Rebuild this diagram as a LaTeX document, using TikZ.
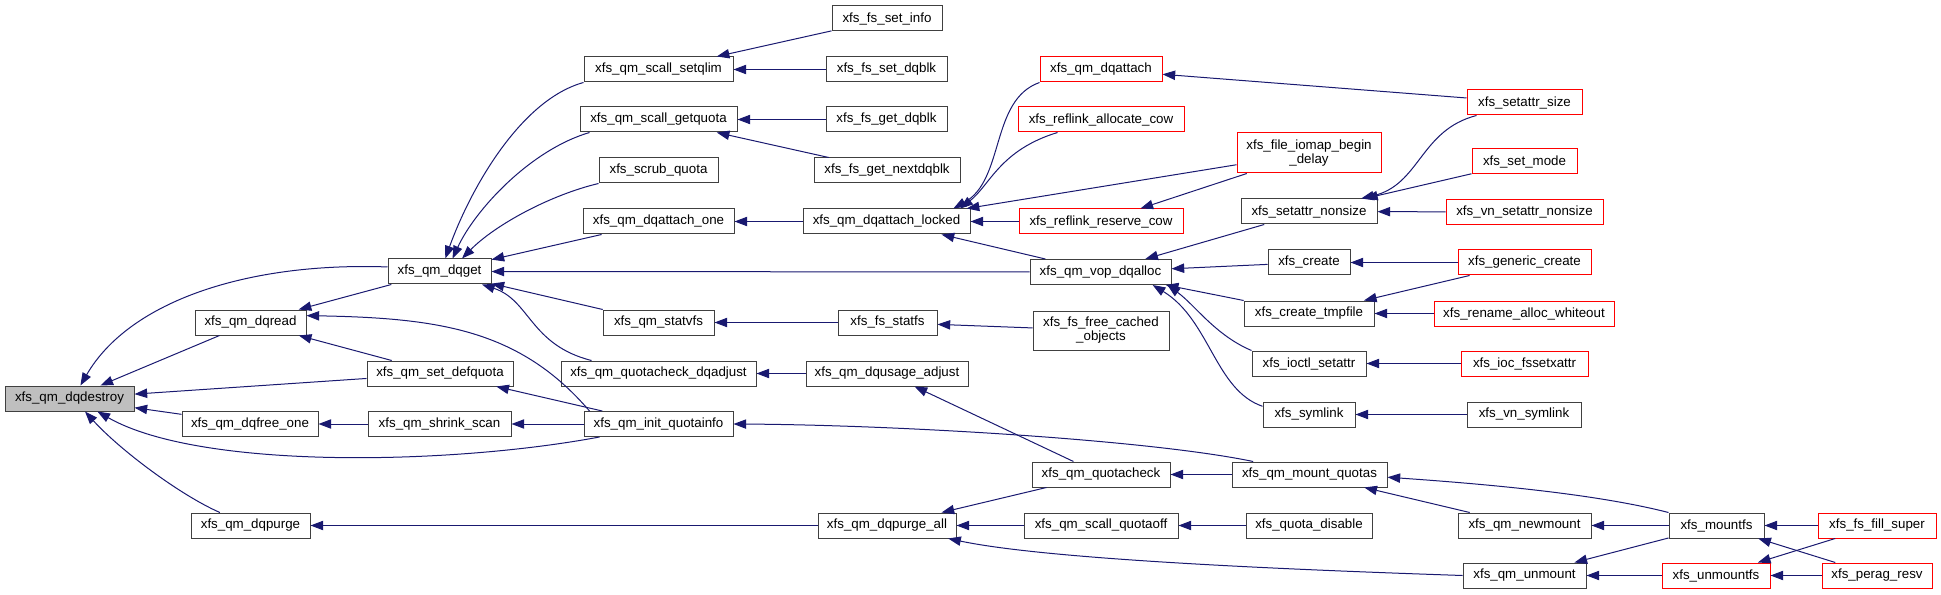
\documentclass[tikz,border=0pt]{standalone}
\usepackage{fontspec}
\setmainfont{Liberation Sans}
\usetikzlibrary{arrows.meta}
\definecolor{edgec}{HTML}{191970}
\definecolor{boxc}{HTML}{404040}
\definecolor{redc}{HTML}{FF0000}
\definecolor{fillc}{HTML}{BFBFBF}
\begin{document}
\begin{tikzpicture}[x=0.75pt,y=-0.75pt,
 nb/.style={draw=boxc, line width=0.75pt, fill=white, inner sep=0pt, minimum height=18.75pt, font=\fontsize{10}{10.5}\selectfont, align=center},
 rb/.style={nb, draw=redc},
 bw/.style={minimum width=#1*0.75pt},
 edg/.style={draw=edgec, line width=0.75pt, -{Triangle[length=9.5pt,width=7pt]}}]
\useasboundingbox (0,0) rectangle (1941,595);
% column 0-1
\node[nb, fill=fillc, bw=129] (dqdestroy) at (69.5,398.5) {xfs\_qm\_dqdestroy};
\node[nb,bw=111] (dqread) at (250.5,322.5) {xfs\_qm\_dqread};
\node[nb,bw=136] (dqfreeone) at (250,424) {xfs\_qm\_dqfree\_one};
\node[nb,bw=119] (dqpurge) at (250.5,525.5) {xfs\_qm\_dqpurge};
% column 2
\node[nb,bw=103] (dqget) at (439.5,271.5) {xfs\_qm\_dqget};
\node[nb,bw=146] (setdefquota) at (440,373.5) {xfs\_qm\_set\_defquota};
\node[nb,bw=143] (shrinkscan) at (439.5,424) {xfs\_qm\_shrink\_scan};
% column 3
\node[nb,bw=149] (setqlim) at (658.5,69.5) {xfs\_qm\_scall\_setqlim};
\node[nb,bw=157] (getquota) at (658.5,119.5) {xfs\_qm\_scall\_getquota};
\node[nb,bw=119] (scrubquota) at (658.5,170.5) {xfs\_scrub\_quota};
\node[nb,bw=151] (dqattachone) at (658.5,221.5) {xfs\_qm\_dqattach\_one};
\node[nb,bw=111] (statvfs) at (658.5,322.5) {xfs\_qm\_statvfs};
\node[nb,bw=195] (qcdqadjust) at (658.5,373.5) {xfs\_qm\_quotacheck\_dqadjust};
\node[nb,bw=149] (initquotainfo) at (658.5,424) {xfs\_qm\_init\_quotainfo};
% column 4
\node[nb,bw=110] (fssetinfo) at (887,18.5) {xfs\_fs\_set\_info};
\node[nb,bw=121] (fssetdqblk) at (886.5,69.5) {xfs\_fs\_set\_dqblk};
\node[nb,bw=121] (fsgetdqblk) at (886.5,119.5) {xfs\_fs\_get\_dqblk};
\node[nb,bw=146] (fsgetnext) at (887,170.5) {xfs\_fs\_get\_nextdqblk};
\node[nb,bw=167] (dqattachlocked) at (886.5,221.5) {xfs\_qm\_dqattach\_locked};
\node[nb,bw=99] (fsstatfs) at (887.5,322.5) {xfs\_fs\_statfs};
\node[nb,bw=162] (dqusage) at (887,373.5) {xfs\_qm\_dqusage\_adjust};
\node[nb,bw=138] (dqpurgeall) at (887,525.5) {xfs\_qm\_dqpurge\_all};
% column 5
\node[rb,bw=122] (dqattach) at (1101,69.5) {xfs\_qm\_dqattach};
\node[rb,bw=166] (allocatecow) at (1101,119.5) {xfs\_reflink\_allocate\_cow};
\node[rb,bw=164] (reservecow) at (1101,221.5) {xfs\_reflink\_reserve\_cow};
\node[nb,bw=141] (vopdqalloc) at (1100.5,272) {xfs\_qm\_vop\_dqalloc};
\node[nb,bw=136,minimum height=29.25pt] (freecached) at (1101,330.5) {xfs\_fs\_free\_cached\\\_objects};
\node[nb,bw=138] (quotacheck) at (1101,474.5) {xfs\_qm\_quotacheck};
\node[nb,bw=154] (quotaoff) at (1101,525.5) {xfs\_qm\_scall\_quotaoff};
% column 6
\node[rb,bw=144,minimum height=30pt] (iomapdelay) at (1309,153) {xfs\_file\_iomap\_begin\\\_delay};
\node[nb,bw=136] (setattrnonsize) at (1309,211.5) {xfs\_setattr\_nonsize};
\node[nb,bw=82] (xfscreate) at (1309,262.5) {xfs\_create};
\node[nb,bw=130] (createtmpfile) at (1309,313.5) {xfs\_create\_tmpfile};
\node[nb,bw=114] (ioctlsetattr) at (1309,363.5) {xfs\_ioctl\_setattr};
\node[nb,bw=92] (symlink) at (1309,414.5) {xfs\_symlink};
\node[nb,bw=155] (mountquotas) at (1309.5,474.5) {xfs\_qm\_mount\_quotas};
\node[nb,bw=126] (quotadisable) at (1309,525.5) {xfs\_quota\_disable};
% column 7
\node[rb,bw=115] (setattrsize) at (1524.5,102.5) {xfs\_setattr\_size};
\node[rb,bw=105] (setmode) at (1524.5,161.5) {xfs\_set\_mode};
\node[rb,bw=157] (vnsetattr) at (1524.5,212) {xfs\_vn\_setattr\_nonsize};
\node[rb,bw=133] (genericcreate) at (1524.5,262.5) {xfs\_generic\_create};
\node[rb,bw=180] (renamewhiteout) at (1524,313.5) {xfs\_rename\_alloc\_whiteout};
\node[rb,bw=127] (iocfssetxattr) at (1524.5,363.5) {xfs\_ioc\_fssetxattr};
\node[nb,bw=114] (vnsymlink) at (1524,414.5) {xfs\_vn\_symlink};
\node[nb,bw=133] (qmnewmount) at (1524.5,525.5) {xfs\_qm\_newmount};
\node[nb,bw=123] (qmunmount) at (1524.5,575.5) {xfs\_qm\_unmount};
% columns 8-9
\node[nb,bw=95] (mountfs) at (1716.5,525.5) {xfs\_mountfs};
\node[rb,bw=108] (unmountfs) at (1716,575.5) {xfs\_unmountfs};
\node[rb,bw=118] (fsfillsuper) at (1877,525.5) {xfs\_fs\_fill\_super};
\node[rb,bw=110] (peragresv) at (1877,575.5) {xfs\_perag\_resv};

% edges into dqdestroy
\draw[edg] (dqget.175) .. controls (250,262) and (130,300) .. (dqdestroy.50);
\draw[edg] (dqread) -- (dqdestroy);
\draw[edg] (setdefquota) -- (dqdestroy);
\draw[edg] (dqfreeone) -- (dqdestroy);
\draw[edg] ([xshift=12pt]initquotainfo.south west) .. controls (450,465) and (200,470) .. (dqdestroy.-25);
\draw[edg] (dqpurge.157) .. controls (180,495) and (120,450) .. (dqdestroy.-40);
% into dqread
\draw[edg] (dqget) -- (dqread);
\draw[edg] ([xshift=4.5pt]initquotainfo.north west) .. controls (520,330) and (440,318) .. (dqread.7);
\draw[edg] (setdefquota) -- (dqread);
% into dqget
\draw[edg] (setqlim.south west) .. controls (520,100) and (470,190) .. (dqget.66);
\draw[edg] ([xshift=7.5pt]getquota.south west) .. controls (530,150) and (475,210) .. (dqget.45);
\draw[edg] (scrubquota.south west) .. controls (550,195) and (495,225) .. (dqget.30);
\draw[edg] (dqattachone) -- (dqget);
\draw[edg] (vopdqalloc) -- (dqget);
\draw[edg] (statvfs) -- (dqget);
\draw[edg] ([xshift=23.25pt]qcdqadjust.north west) .. controls (530,345) and (530,300) .. (dqget.-17);
% column 2 others
\draw[edg] (initquotainfo) -- (setdefquota);
\draw[edg] (shrinkscan) -- (dqfreeone);
\draw[edg] (initquotainfo) -- (shrinkscan);
\draw[edg] (dqpurgeall) -- (dqpurge);
% column 3 targets
\draw[edg] (fssetinfo) -- (setqlim);
\draw[edg] (fssetdqblk) -- (setqlim);
\draw[edg] (fsgetdqblk) -- (getquota);
\draw[edg] (fsgetnext) -- (getquota);
\draw[edg] (dqattachlocked) -- (dqattachone);
\draw[edg] (fsstatfs) -- (statvfs);
\draw[edg] (dqusage) -- (qcdqadjust);
\draw[edg] (mountquotas.167) .. controls (1150,440) and (900,425) .. (initquotainfo.east);
% column 4 targets
\draw[edg] (freecached) -- (fsstatfs);
\draw[edg] (quotacheck) -- (dqusage);
\draw[edg] (dqattach.south west) .. controls (990,100) and (1005,180) .. (dqattachlocked.11);
\draw[edg] ([xshift=30pt]allocatecow.south west) .. controls (1000,150) and (990,185) .. (dqattachlocked.10);
\draw[edg] (iomapdelay) -- (dqattachlocked);
\draw[edg] (reservecow) -- (dqattachlocked);
\draw[edg] (vopdqalloc) -- (dqattachlocked);
\draw[edg] (quotacheck) -- (dqpurgeall);
\draw[edg] (quotaoff) -- (dqpurgeall);
\draw[edg] (qmunmount.west) .. controls (1300,570) and (1050,560) .. (dqpurgeall.-12);
% column 5 targets
\draw[edg] (setattrsize) -- (dqattach);
\draw[edg] (iomapdelay) -- (reservecow);
\draw[edg] (setattrnonsize) -- (vopdqalloc);
\draw[edg] (xfscreate) -- (vopdqalloc);
\draw[edg] (createtmpfile) -- (vopdqalloc);
\draw[edg] (ioctlsetattr.north west) .. controls (1215,335) and (1195,305) .. (vopdqalloc.-11);
\draw[edg] (symlink.170) .. controls (1215,390) and (1210,320) .. (vopdqalloc.-14);
\draw[edg] (mountquotas) -- (quotacheck);
\draw[edg] (quotadisable) -- (quotaoff);
% column 6 targets
\draw[edg] ([xshift=7.5pt]setattrsize.south west) .. controls (1420,130) and (1420,185) .. (setattrnonsize.14);
\draw[edg] (setmode) -- (setattrnonsize);
\draw[edg] (vnsetattr) -- (setattrnonsize);
\draw[edg] (genericcreate) -- (xfscreate);
\draw[edg] (genericcreate) -- (createtmpfile);
\draw[edg] (renamewhiteout) -- (createtmpfile);
\draw[edg] (iocfssetxattr) -- (ioctlsetattr);
\draw[edg] (vnsymlink) -- (symlink);
\draw[edg] (mountfs.north west) .. controls (1600,495) and (1500,485) .. (mountquotas.-2);
% column 7 targets
\draw[edg] (qmnewmount) -- (mountquotas);
\draw[edg] (mountfs) -- (qmnewmount);
\draw[edg] (mountfs) -- (qmunmount);
\draw[edg] (unmountfs) -- (qmunmount);
% column 8 targets
\draw[edg] (fsfillsuper) -- (mountfs);
\draw[edg] (peragresv) -- (mountfs);
\draw[edg] (fsfillsuper) -- (unmountfs);
\draw[edg] (peragresv) -- (unmountfs);
\end{tikzpicture}
\end{document}
